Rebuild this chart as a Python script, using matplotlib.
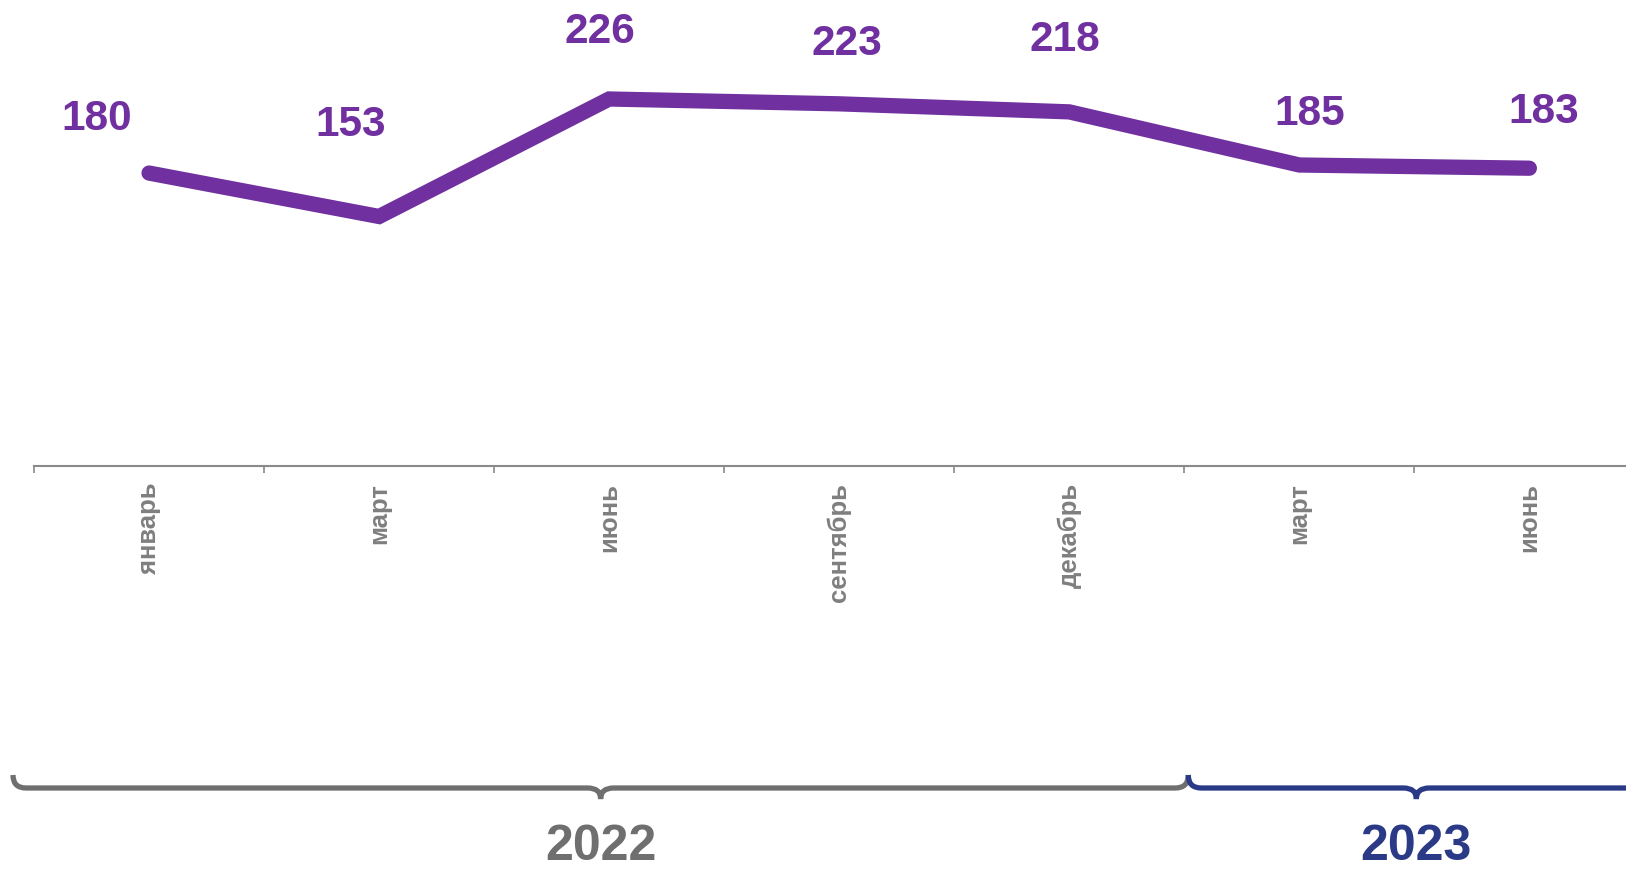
import matplotlib.pyplot as plt
from matplotlib.path import Path
from matplotlib.patches import PathPatch
from matplotlib.ticker import FixedLocator

plt.rcParams['font.family'] = ['Liberation Sans', 'DejaVu Sans']

months = ["январь", "март", "июнь", "сентябрь", "декабрь", "март", "июнь"]
values = [180, 153, 226, 223, 218, 185, 183]
years = ["2022", "2023"]
year_counts = [5, 2]

line_color = "#7030A0"
tick_color = "#7F7F7F"
axis_color = "#8A8A8A"
year_colors = ["#6F6F6F", "#2B3A87"]

# where each value label sits relative to its point, in pixels (dx, dy up)
label_offsets = [(-52, 54), (-28, 92), (-9, 67), (8, 60), (-4, 72), (10, 51), (14, 56)]
# small nudges of the brace ends, in pixels
brace_nudge = [(-21, 4), (4, 0)]

W, H = 1626, 871
fig = plt.figure(figsize=(W / 100, H / 100), dpi=100)

ax_left = 34 / W
ax_bottom = 1 - 466 / H
ax = fig.add_axes([ax_left, ax_bottom, 1 - ax_left, 466 / H])
ax.set_xlim(-0.5, 6.42)
ax.set_ylim(-2, 287.5)

x = list(range(len(values)))
ax.plot(x, values, color=line_color, lw=11, solid_capstyle="round",
        solid_joinstyle="miter", clip_on=False)

for xi, v, (dx, dy) in zip(x, values, label_offsets):
    ax.annotate(str(v), (xi, v), xytext=(dx, dy), textcoords="offset pixels",
                ha="center", va="center", fontsize=30.5, fontweight="bold",
                color=line_color)

# boundaries get the tick marks, the month names sit between them
ax.xaxis.set_major_locator(FixedLocator([i - 0.5 for i in range(len(months))]))
ax.xaxis.set_major_formatter(plt.NullFormatter())
ax.xaxis.set_minor_locator(FixedLocator(x))
ax.set_xticklabels(months, minor=True, rotation=90, va="top", ha="center",
                   fontsize=18.5, fontweight="bold", color=tick_color)
ax.tick_params(axis="x", which="major", direction="out", length=5, width=1.2,
               color=axis_color)
ax.tick_params(axis="x", which="minor", length=0, pad=12)
ax.set_yticks([])
for side in ["left", "right", "top"]:
    ax.spines[side].set_visible(False)
ax.spines["bottom"].set_color(axis_color)
ax.spines["bottom"].set_linewidth(1.5)

# overlay in image pixels for the year braces
ov = fig.add_axes([0, 0, 1, 1])
ov.set_xlim(0, W)
ov.set_ylim(H, 0)
ov.axis("off")


def to_px(xd):
    return ax.transData.transform((xd, 0))[0]


def brace(x0, x1, y, r, d, color):
    xm = (x0 + x1) / 2
    verts = [(x0, y - r), (x0, y), (x0 + r, y),
             (xm - r, y), (xm, y), (xm, y + d),
             (xm, y), (xm + r, y),
             (x1 - r, y), (x1, y), (x1, y - r)]
    codes = [Path.MOVETO, Path.CURVE3, Path.CURVE3, Path.LINETO,
             Path.CURVE3, Path.CURVE3, Path.CURVE3, Path.CURVE3,
             Path.LINETO, Path.CURVE3, Path.CURVE3]
    ov.add_patch(PathPatch(Path(verts, codes), fill=False, edgecolor=color,
                           lw=3.8, capstyle="butt", clip_on=False))
    return xm


start = 0
for year, n, color, (n0, n1) in zip(years, year_counts, year_colors, brace_nudge):
    x0 = to_px(start - 0.5) + n0
    x1 = to_px(start + n - 0.5) + n1
    xm = brace(x0, x1, 788, 13, 11, color)
    ov.text(xm, 860, year, ha="center", va="baseline", fontsize=36,
            fontweight="bold", color=color)
    start += n

fig.savefig("out.png", dpi=100)
